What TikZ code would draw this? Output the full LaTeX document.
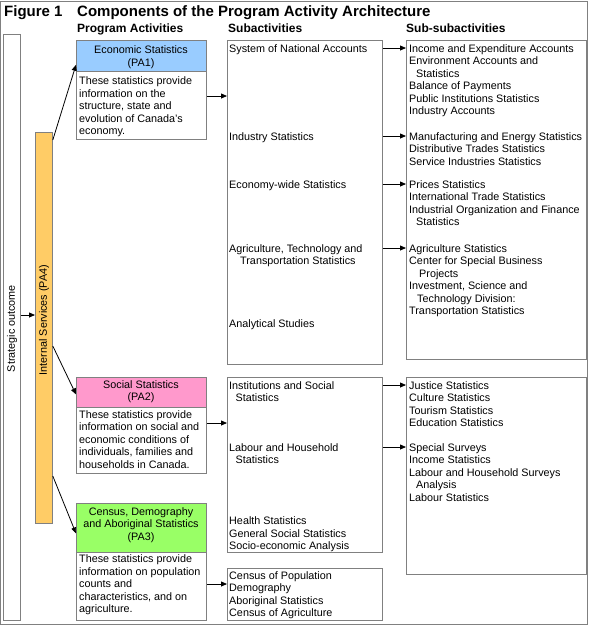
\documentclass[tikz,border=0pt]{standalone}
\usepackage{fontspec}
\setmainfont{Liberation Sans}
\usetikzlibrary{arrows.meta,calc}
\definecolor{bordergray}{HTML}{808080}
\definecolor{pablue}{HTML}{99CCFF}
\definecolor{papink}{HTML}{FF99CC}
\definecolor{pagreen}{HTML}{99FF66}
\definecolor{paorange}{HTML}{FFCC66}
\newcommand{\tl}[1]{\begin{tabular}[t]{@{}l@{}}#1\end{tabular}}
\newcommand{\tcc}[1]{\begin{tabular}[t]{@{}c@{}}#1\end{tabular}}
\newcommand{\ind}[1][7pt]{\hspace*{#1}}
\begin{document}
\begin{tikzpicture}[x=1pt,y=-1pt,
  box/.style={draw=bordergray, line width=0.8pt, fill=white, rectangle, inner sep=0pt, anchor=north west},
  txt/.style={inner sep=0pt, anchor=base west, font=\fontsize{10.8}{12.5}\selectfont},
  ctxt/.style={inner sep=0pt, anchor=base, font=\fontsize{10.8}{12.5}\selectfont},
  rtxt/.style={inner sep=0pt, rotate=90, font=\fontsize{10.8}{12.5}\selectfont},
  head/.style={inner sep=0pt, anchor=base west, font=\fontsize{12}{14}\selectfont\bfseries},
  ttl/.style={inner sep=0pt, anchor=base west, font=\fontsize{15}{18}\selectfont\bfseries},
  arr/.style={draw=black, line width=0.8pt, -{Triangle[length=6pt,width=5pt]}},
]
\useasboundingbox (0,0) rectangle (589,625);
\node[box, fill=none, minimum width=586.5pt, minimum height=623pt] (frame) at (0.5,0.5) {};

% titles
\node[ttl] (fig) at (4,16) {Figure 1};
\node[ttl] (title) at (77,16) {Components of the Program Activity Architecture};
\node[head] (hpa) at (77,32.3) {Program Activities};
\node[head] (hsa) at (228,32.3) {Subactivities};
\node[head] (hssa) at (406,32.3) {Sub-subactivities};

% strategic outcome and internal services
\node[box, minimum width=17pt, minimum height=586pt] (so) at (3,34) {};
\node[rtxt] (sot) at (12,328.5) {Strategic outcome};
\node[box, fill=paorange, minimum width=17pt, minimum height=391pt] (is) at (35,132) {};
\node[rtxt] (ist) at (44,320) {Internal Services (PA4)};

% program activities
\node[box, minimum width=130pt, minimum height=99pt] (pa1) at (76,40) {};
\node[box, fill=pablue, minimum width=130pt, minimum height=31pt] (pa1h) at (76,40) {};
\node[ctxt] (pa1t) at (141,53.5) {\tcc{Economic Statistics\\(PA1)}};
\node[txt] (pa1d) at (79,84.5) {\tl{These statistics provide\\information on the\\structure, state and\\evolution of Canada’s\\economy.}};

\node[box, minimum width=130pt, minimum height=96pt] (pa2) at (76,377) {};
\node[box, fill=papink, minimum width=130pt, minimum height=30pt] (pa2h) at (76,377) {};
\node[ctxt] (pa2t) at (141,388.3) {\tcc{Social Statistics\\(PA2)}};
\node[txt] (pa2d) at (79,418.3) {\tl{These statistics provide\\information on social and\\economic conditions of\\individuals, families and\\households in Canada.}};

\node[box, minimum width=130pt, minimum height=117pt] (pa3) at (76,503) {};
\node[box, fill=pagreen, minimum width=130pt, minimum height=49pt] (pa3h) at (76,503) {};
\node[ctxt] (pa3t) at (141,515) {\tcc{Census, Demography\\and Aboriginal Statistics\\(PA3)}};
\node[txt] (pa3d) at (79,562.7) {\tl{These statistics provide\\information on population\\counts and\\characteristics, and on\\agriculture.}};

% subactivity boxes
\node[box, minimum width=155pt, minimum height=324pt] (sa1) at (227,40) {};
\node[box, minimum width=155pt, minimum height=175pt] (sa2) at (227,377) {};
\node[box, minimum width=155pt, minimum height=52pt] (sa3) at (227,568) {};
\node[box, minimum width=180pt, minimum height=319pt] (ssa1) at (406,40) {};
\node[box, minimum width=180pt, minimum height=197pt] (ssa2) at (406,377) {};

% subactivity texts
\node[txt] (sna) at (229,52) {System of National Accounts};
\node[txt] (inds) at (229,140) {Industry Statistics};
\node[txt] (eco) at (229,188) {Economy-wide Statistics};
\node[txt] (agr) at (229,252) {\tl{Agriculture, Technology and\\\ind[11pt]Transportation Statistics}};
\node[txt] (ana) at (229,327) {Analytical Studies};
\node[txt] (ins) at (229,389) {\tl{Institutions and Social\\\ind[6.5pt]Statistics}};
\node[txt] (lab) at (229,451) {\tl{Labour and Household\\\ind[6.5pt]Statistics}};
\node[txt] (hea) at (229,524.5) {\tl{Health Statistics\\General Social Statistics\\Socio-economic Analysis}};
\node[txt] (cen) at (229,579.3) {\tl{Census of Population\\Demography\\Aboriginal Statistics\\Census of Agriculture}};

% sub-subactivity texts
\node[txt] (ssna) at (409,52) {\tl{Income and Expenditure Accounts\\Environment Accounts and\\\ind Statistics\\Balance of Payments\\Public Institutions Statistics\\Industry Accounts}};
\node[txt] (sinds) at (409,140) {\tl{Manufacturing and Energy Statistics\\Distributive Trades Statistics\\Service Industries Statistics}};
\node[txt] (seco) at (409,188) {\tl{Prices Statistics\\International Trade Statistics\\Industrial Organization and Finance\\\ind Statistics}};
\node[txt] (sagr) at (409,252) {\tl{Agriculture Statistics\\Center for Special Business\\\ind[10pt]Projects\\Investment, Science and\\\ind[8pt]Technology Division:\\Transportation Statistics}};
\node[txt] (sins) at (409,389) {\tl{Justice Statistics\\Culture Statistics\\Tourism Statistics\\Education Statistics}};
\node[txt] (slab) at (409,451) {\tl{Special Surveys\\Income Statistics\\Labour and Household Surveys\\\ind Analysis\\Labour Statistics}};

% connectors
\coordinate (soy) at (0,315);
\draw[arr] (so.east |- soy) -- (is.west |- soy);

\draw[arr] ($(is.north east)+(0,8)$) -- ($(pa1h.south west)+(0,-7)$);
\draw[arr] ($(is.north east)+(0,214)$) -- ($(pa2h.west)+(0,2)$);
\draw[arr] ($(is.north east)+(0,344)$) -- ($(pa3h.west)+(0,5.5)$);

\coordinate (y1) at (0,96);
\coordinate (y2) at (0,423);
\coordinate (y3) at (0,584);
\draw[arr] (pa1.east |- y1) -- (sa1.west |- y1);
\draw[arr] (pa2.east |- y2) -- (sa2.west |- y2);
\draw[arr] (pa3.east |- y3) -- (sa3.west |- y3);

\foreach \n in {sna,inds,eco,agr,ins,lab}{
  \coordinate (a\n) at ($(\n.base)+(0,-4)$);
}
\draw[arr] (sa1.east |- asna) -- (ssa1.west |- asna);
\draw[arr] (sa1.east |- ainds) -- (ssa1.west |- ainds);
\draw[arr] (sa1.east |- aeco) -- (ssa1.west |- aeco);
\draw[arr] (sa1.east |- aagr) -- (ssa1.west |- aagr);
\draw[arr] (sa2.east |- ains) -- (ssa2.west |- ains);
\draw[arr] (sa2.east |- alab) -- (ssa2.west |- alab);
\end{tikzpicture}
\end{document}
